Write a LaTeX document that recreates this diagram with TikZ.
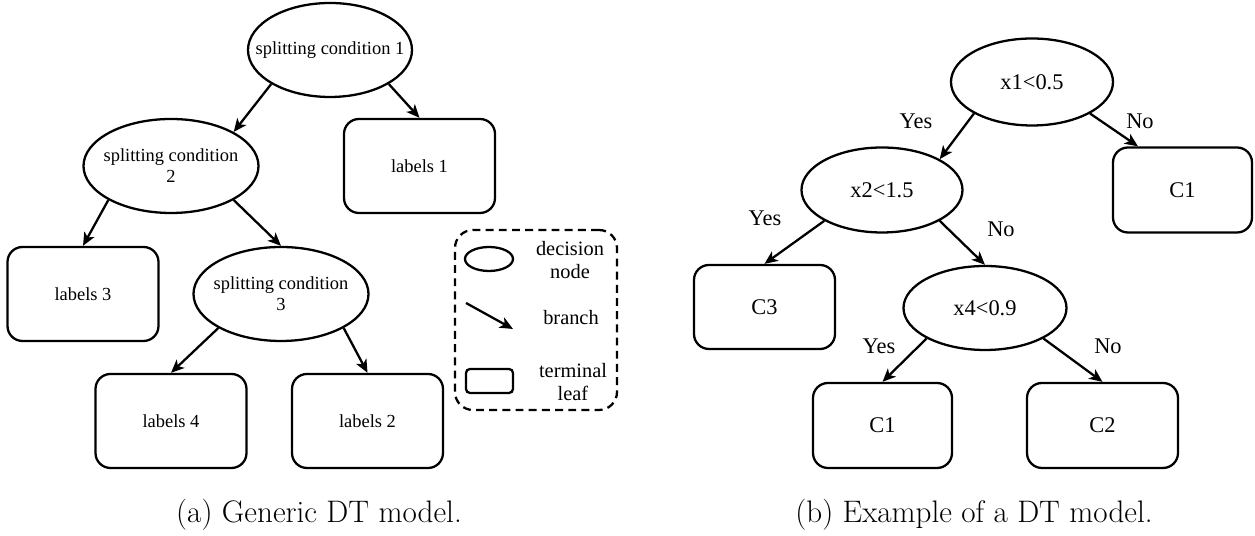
\documentclass[tikz,border=0pt]{standalone}
\usepackage{fontspec}
\newfontfamily\treefont{Liberation Serif}
\usetikzlibrary{shapes.geometric, arrows.meta}

\begin{document}
\begin{tikzpicture}
            [
            cond/.style={ellipse,draw,line width=1.3pt,inner sep=0pt},
            leaf/.style={rectangle,draw,line width=1.3pt,inner sep=0pt,
                rounded corners=0.3cm},
            brarrow/.style={line width=1.3pt,
                -{Stealth[length=7.5pt,width=6.5pt,inset=2pt]}},
            answer/.style={inner sep=0pt},
            legendframe/.style={rectangle,draw,line width=1.3pt,
                dash pattern=on 4.5pt off 3pt,rounded corners=0.36cm},
            caption/.style={font={\fontsize{17.7}{21}\selectfont}},
            ]
            \useasboundingbox (0,0) rectangle (25.10,10.72);

            % Generic tree
            \begin{scope}[font={\fontsize{10.5}{12}\selectfont\treefont}]
            \node[cond,minimum width=3.28cm,minimum height=1.88cm,
                label=center:{splitting condition 1}] (sc1) at (6.60,9.72) {};
            \node[cond,minimum width=3.50cm,minimum height=1.88cm,
                label={[align=center]center:splitting condition\\2}] (sc2) at (3.42,7.40) {};
            \node[cond,minimum width=3.50cm,minimum height=1.88cm,
                label={[align=center]center:splitting condition\\3}] (sc3) at (5.62,4.84) {};
            \node[leaf,minimum width=3.02cm,minimum height=1.88cm] (lab1) at (8.39,7.40) {labels 1};
            \node[leaf,minimum width=3.02cm,minimum height=1.88cm] (lab3) at (1.66,4.84) {labels 3};
            \node[leaf,minimum width=3.02cm,minimum height=1.88cm] (lab4) at (3.42,2.30) {labels 4};
            \node[leaf,minimum width=3.02cm,minimum height=1.88cm] (lab2) at (7.35,2.30) {labels 2};
            \end{scope}

            \draw[brarrow] (sc1.south west) -- (sc2.north east);
            \draw[brarrow] (sc1.south east) -- (lab1.north);
            \draw[brarrow] (sc2.south west) -- (lab3.north);
            \draw[brarrow] (sc2.south east) -- (sc3.north);
            \draw[brarrow] (sc3.south west) -- (lab4.north);
            \draw[brarrow] (sc3.south east) -- (lab2.north);

            % Legend
            \node[legendframe,minimum width=3.24cm,minimum height=3.60cm] (legend) at (10.72,4.32) {};
            \begin{scope}[font={\fontsize{11.6}{13}\selectfont\treefont}]
            \node[cond,minimum width=0.96cm,minimum height=0.48cm] (legdec) at (9.78,5.54) {};
            \node[align=center] (legdectext) at (11.40,5.52) {decision\\node};
            \coordinate (legbr1) at (9.32,4.66);
            \coordinate (legbr2) at (10.26,4.14);
            \draw[brarrow] (legbr1) -- (legbr2);
            \node (legbrtext) at (11.42,4.36) {branch};
            \node[leaf,rounded corners=0.08cm,minimum width=0.94cm,minimum height=0.48cm] (legleaf) at (9.79,3.10) {};
            \node[align=center] (legleaftext) at (11.46,3.08) {terminal\\leaf};
            \end{scope}

            % Example tree
            \begin{scope}[font={\fontsize{12.75}{15}\selectfont\treefont}]
            \node[cond,minimum width=3.24cm,minimum height=1.74cm,
                label=center:{x1<0.5}] (x1) at (20.64,9.08) {};
            \node[cond,minimum width=3.22cm,minimum height=1.70cm,
                label=center:{x2<1.5}] (x2) at (17.64,6.92) {};
            \node[cond,minimum width=3.26cm,minimum height=1.68cm,
                label=center:{x4<0.9}] (x4) at (19.70,4.56) {};
            \node[leaf,minimum width=2.78cm,minimum height=1.70cm] (c1a) at (23.65,6.92) {C1};
            \node[leaf,minimum width=2.82cm,minimum height=1.68cm] (c3) at (15.29,4.58) {C3};
            \node[leaf,minimum width=2.78cm,minimum height=1.70cm] (c1b) at (17.65,2.21) {C1};
            \node[leaf,minimum width=3.02cm,minimum height=1.70cm] (c2) at (22.05,2.21) {C2};

            \node[answer] (yes1) at (18.32,8.30) {Yes};
            \node[answer] (no1) at (22.80,8.30) {No};
            \node[answer] (yes2) at (15.30,6.36) {Yes};
            \node[answer] (no2) at (20.02,6.14) {No};
            \node[answer] (yes3) at (17.58,3.80) {Yes};
            \node[answer] (no3) at (22.16,3.80) {No};
            \end{scope}

            \draw[brarrow] (x1.south west) -- (x2.north east);
            \draw[brarrow] (x1.south east) -- ([xshift=-0.89cm]c1a.north);
            \draw[brarrow] (x2.south west) -- (c3.north);
            \draw[brarrow] (x2.south east) -- (x4.north);
            \draw[brarrow] (x4.south west) -- (c1b.north);
            \draw[brarrow] (x4.south east) -- (c2.north);

            % Captions
            \node[caption] (capa) at (6.38,0.43) {(a) Generic DT model.};
            \node[caption] (capb) at (19.48,0.43) {(b) Example of a DT model.};

        \end{tikzpicture}
\end{document}
